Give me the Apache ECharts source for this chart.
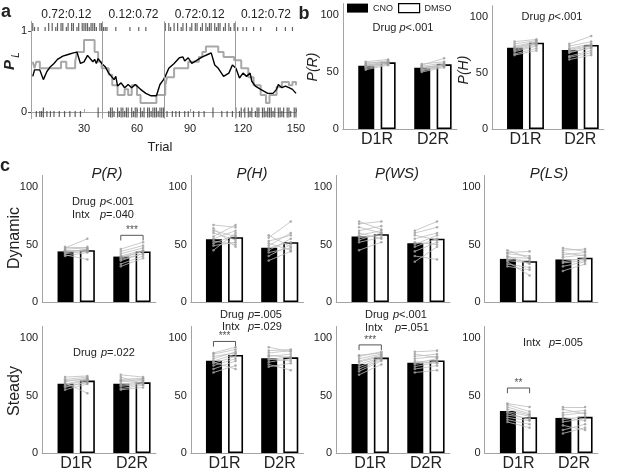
<!DOCTYPE html>
<html><head><meta charset="utf-8">
<script src="https://cdn.jsdelivr.net/npm/echarts@6/dist/echarts.min.js"></script>
<style>html,body{margin:0;padding:0;background:#fff}#c{width:617px;height:473px}</style>
</head><body><div id="c"></div>
<script>
// ===== Panel a data =====
const trialTicks = [30, 60, 90, 120, 150];
const blockBounds = [40.5, 75.5, 115.5];
const blockCenters = [20, 58, 95.5, 133];
const blockLabels = ['0.72:0.12', '0.12:0.72', '0.72:0.12', '0.12:0.72'];
// black: model estimate (trial, P_L)
const blackLine = [[1,0.44],[2,0.52],[3,0.50],[5,0.52],[7,0.40],[9,0.50],[11,0.56],[13,0.60],[15,0.65],[18,0.69],[21,0.71],[24,0.73],[26,0.74],[28,0.60],[30,0.62],[32,0.70],[33,0.72],[35,0.62],[36,0.65],[37,0.60],[38,0.66],[40,0.60],[42,0.56],[44,0.48],[45,0.50],[47,0.40],[48,0.44],[49,0.32],[51,0.36],[53,0.30],[55,0.34],[57,0.30],[59,0.34],[62,0.28],[65,0.23],[68,0.20],[71,0.20],[72,0.21],[73,0.34],[74,0.32],[75,0.40],[76,0.44],[78,0.54],[81,0.60],[84,0.67],[86,0.68],[87,0.63],[89,0.67],[91,0.60],[94,0.64],[95,0.63],[97,0.68],[100,0.71],[102,0.73],[104,0.58],[106,0.54],[109,0.44],[110,0.42],[112,0.48],[114,0.58],[116,0.54],[118,0.42],[120,0.48],[122,0.44],[124,0.48],[125,0.38],[127,0.32],[130,0.28],[134,0.23],[137,0.23],[139,0.28],[140,0.34],[142,0.30],[144,0.32],[146,0.30],[148,0.28],[150,0.23]];
// gray: running choice estimate (step changes)
const grayLine = [[1,0.62],[2,0.54],[3,0.62],[5,0.54],[17,0.62],[20,0.54],[25,0.62],[26,0.74],[30,0.89],[36,0.74],[38,0.62],[40,0.54],[44,0.46],[46,0.33],[49,0.21],[53,0.28],[55,0.21],[57,0.33],[60,0.21],[62,0.11],[71,0.21],[76,0.33],[77,0.43],[81,0.54],[89,0.62],[95,0.68],[97,0.74],[99,0.81],[106,0.74],[109,0.68],[115,0.64],[119,0.54],[123,0.43],[126,0.33],[130,0.21],[133,0.11],[135,0.21],[139,0.31],[142,0.37],[146,0.33],[148,0.37],[150,0.33]];
const leftRewarded = [1,10,12,15,17,18,21,23,24,27,29,30,31,32,34,35,36,39,40,76,78,81,83,86,88,91,93,94,97,99,101,102,104,106,107,110,112,115];
const leftUnrewarded = [2,4,8,14,20,26,33,37,41,42,43,48,56,61,65,79,85,90,96,100,105,109,113,117,120,122,126,130,139,144,148];
const rightRewarded = [7,38,45,46,49,51,52,54,55,57,59,60,62,64,66,67,69,70,71,73,74,75,103,116,119,121,123,125,128,129,131,132,134,135,136,138,140,141,143,145,146,149,150];
const rightUnrewarded = [3,5,6,9,11,13,16,19,22,25,28,44,47,50,53,58,63,68,72,77,80,82,84,87,89,92,95,98,108,111,114,118,124,127,133,137,142,147];

// ===== Bar panels data =====
const groups = ['D1R', 'D2R'];
const groupPos = [1, 2];
const condOffset = 0.2;
// group means [D1R, D2R]
const bPR_CNO = [55.5, 53.8],  bPR_DMSO = [58.5, 56.7];
const bPH_CNO = [72.6, 70.5],  bPH_DMSO = [77.0, 75.0];
const dynPR_CNO = [44, 39.5],  dynPR_DMSO = [45, 44];
const dynPH_CNO = [54.5, 47.2], dynPH_DMSO = [56.3, 52];
const dynPWS_CNO = [57, 51],   dynPWS_DMSO = [59, 55];
const dynPLS_CNO = [37.5, 37], dynPLS_DMSO = [35.5, 38.5];
const stPR_CNO = [60.2, 60.2], stPR_DMSO = [63, 61.5];
const stPH_CNO = [80.3, 82.3], stPH_DMSO = [85.3, 83.2];
const stPWS_CNO = [77.5, 78.5], stPWS_DMSO = [83, 80.5];
const stPLS_CNO = [36.5, 30.5], stPLS_DMSO = [31, 31.5];
// individual animals [CNO, DMSO]
const bPR_D1R = [[52,56],[54,57],[55,58],[56,59],[57,60],[58,59],[53,57],[55,58],[59,61],[56,58]];
const bPR_D2R = [[50,54],[52,55],[53,57],[54,56],[55,58],[56,62],[51,55],[54,56],[57,59],[52,56]];
const bPH_D1R = [[67,72],[69,74],[71,76],[72,77],[74,78],[76,79],[78,80],[70,75],[73,77],[66,70]];
const bPH_D2R = [[62,66],[65,70],[68,73],[70,74],[72,76],[74,78],[76,83],[69,72],[71,75],[64,68]];
const dynPR_D1R = [[40,43],[42,44],[43,46],[44,45],[46,47],[47,55],[48,48],[41,37],[45,44],[43,46]];
const dynPR_D2R = [[31,38],[33,40],[36,42],[38,44],[40,45],[42,47],[44,49],[46,52],[37,42],[39,44]];
const dynPH_D1R = [[45,60],[49,52],[51,58],[53,50],[55,62],[57,67],[60,54],[62,57],[64,48],[67,65]];
const dynPH_D2R = [[36,44],[40,50],[43,47],[45,55],[47,52],[49,60],[51,45],[53,58],[56,70],[58,48]];
const dynPWS_D1R = [[45,52],[52,56],[54,60],[56,58],[58,62],[60,55],[62,66],[65,60],[68,70],[70,63]];
const dynPWS_D2R = [[35,48],[40,37],[44,52],[48,55],[50,58],[52,50],[55,60],[58,54],[60,65],[62,70]];
const dynPLS_D1R = [[31,28],[33,30],[35,23],[36,34],[37,36],[39,38],[40,33],[42,40],[43,44],[45,38]];
const dynPLS_D2R = [[27,33],[31,35],[34,36],[35,38],[37,37],[39,41],[41,43],[43,40],[45,46],[47,44]];
const stPR_D1R = [[55,60],[57,62],[59,63],[60,64],[61,52],[62,65],[63,64],[64,66],[66,67],[58,61]];
const stPR_D2R = [[55,57],[56,59],[58,60],[59,61],[60,62],[62,63],[63,64],[64,65],[66,60],[68,66]];
const stPH_D1R = [[70,76],[73,80],[76,82],[78,84],[80,86],[82,88],[84,87],[86,90],[87,92],[79,73]];
const stPH_D2R = [[75,78],[77,72],[79,82],[81,84],[82,80],[84,86],[85,83],[87,89],[89,90],[92,88]];
const stPWS_D1R = [[68,77],[71,80],[73,81],[75,82],[77,83],[79,84],[80,85],[82,86],[84,88],[85,87]];
const stPWS_D2R = [[70,72],[73,76],[75,79],[77,80],[78,82],[80,78],[82,84],[84,86],[86,83],[88,89]];
const stPLS_D1R = [[27,22],[29,25],[31,28],[33,30],[35,29],[36,32],[38,33],[40,34],[42,36],[43,40]];
const stPLS_D2R = [[17,22],[20,25],[24,20],[27,30],[29,32],[31,28],[33,35],[35,37],[38,34],[40,40]];
// significance brackets: [group index, height, mark]
const sigDynPR = [1, 58, '***'];
const sigStPH = [0, 97, '***'];
const sigStPWS = [0, 94, '***'];
const sigStPLS = [0, 56.5, '**'];

// ===== Layout =====
const FONT = '"Liberation Sans", Arial, sans-serif';
const AX = '#a3a3a3';
const TXT = '#222';
const colLeft = [42.2, 190.8, 336.2, 484.65];
const colWidth = [113.7, 112.7, 113.7, 113.2];
const panels = [
  {cno:bPR_CNO, dmso:bPR_DMSO, s:[bPR_D1R,bPR_D2R], left:342.8, top:3.6, width:114.2, height:125.4, xlab:true},
  {cno:bPH_CNO, dmso:bPH_DMSO, s:[bPH_D1R,bPH_D2R], left:492.1, top:5.8, width:111.7, height:123.2, xlab:true},
  {cno:dynPR_CNO, dmso:dynPR_DMSO, s:[dynPR_D1R,dynPR_D2R], col:0, row:0, sig:sigDynPR},
  {cno:dynPH_CNO, dmso:dynPH_DMSO, s:[dynPH_D1R,dynPH_D2R], col:1, row:0},
  {cno:dynPWS_CNO, dmso:dynPWS_DMSO, s:[dynPWS_D1R,dynPWS_D2R], col:2, row:0},
  {cno:dynPLS_CNO, dmso:dynPLS_DMSO, s:[dynPLS_D1R,dynPLS_D2R], col:3, row:0},
  {cno:stPR_CNO, dmso:stPR_DMSO, s:[stPR_D1R,stPR_D2R], col:0, row:1},
  {cno:stPH_CNO, dmso:stPH_DMSO, s:[stPH_D1R,stPH_D2R], col:1, row:1, sig:sigStPH},
  {cno:stPWS_CNO, dmso:stPWS_DMSO, s:[stPWS_D1R,stPWS_D2R], col:2, row:1, sig:sigStPWS},
  {cno:stPLS_CNO, dmso:stPLS_DMSO, s:[stPLS_D1R,stPLS_D2R], col:3, row:1, sig:sigStPLS}
];
panels.forEach(p => {
  if (p.col !== undefined) {
    p.left = colLeft[p.col]; p.width = colWidth[p.col];
    p.top = p.row === 0 ? 175.5 : 326.5; p.height = 126.5; p.xlab = p.row === 1;
  }
});

const grids = [{left:31, top:21.3, width:265, height:97.2}];
const xAxes = [
  {type:'value', gridIndex:0, min:0, max:150,
   axisLine:{lineStyle:{color:AX}}, splitLine:{show:false},
   axisTick:{show:true, inside:true, length:3, customValues:trialTicks, lineStyle:{color:AX}},
   axisLabel:{customValues:trialTicks, fontSize:11, color:TXT, margin:5, fontFamily:FONT}},
  {type:'value', gridIndex:0, min:0, max:150, position:'top',
   axisLine:{show:false}, axisTick:{show:false}, splitLine:{show:false},
   axisLabel:{customValues:blockCenters, formatter:(v)=>blockLabels[blockCenters.indexOf(v)], fontSize:12, color:TXT, margin:1, fontFamily:FONT}}
];
const yAxes = [
  {type:'value', gridIndex:0, min:-0.08, max:1.12,
   axisLine:{show:true, lineStyle:{color:AX}}, splitLine:{show:false},
   axisTick:{show:true, length:3, customValues:[0,1], lineStyle:{color:'#555'}},
   axisLabel:{customValues:[0,1], fontSize:11, color:TXT, margin:4, fontFamily:FONT}}
];
const series = [
  {type:'line', xAxisIndex:0, yAxisIndex:0, data:grayLine, step:'end', showSymbol:false,
   lineStyle:{color:'#a8a8a8', width:2}, silent:true,
   markLine:{symbol:'none', silent:true, label:{show:false}, lineStyle:{color:'#9a9a9a', type:'solid', width:1},
     data:blockBounds.map(x=>({xAxis:x}))}},
  {type:'line', xAxisIndex:0, yAxisIndex:0, data:blackLine, showSymbol:false,
   lineStyle:{color:'#000', width:1.4}, silent:true, z:3}
];
function raster(trials, y, h) {
  return {type:'scatter', xAxisIndex:0, yAxisIndex:0, symbol:'rect', symbolSize:[1.2, h],
    itemStyle:{color:'#3a3a3a'}, silent:true, data:trials.map(t=>[t, y])};
}
series.push(raster(leftRewarded, 1.049, 8), raster(leftUnrewarded, 1.025, 4),
            raster(rightRewarded, -0.006, 10), raster(rightUnrewarded, -0.025, 6));

panels.forEach((p, i) => {
  const gi = grids.length;
  const xi = xAxes.length, yi = yAxes.length;
  grids.push({left:p.left, top:p.top, width:p.width, height:p.height});
  xAxes.push({type:'value', gridIndex:gi, min:0.39, max:2.43,
    axisLine:{lineStyle:{color:AX}}, splitLine:{show:false},
    axisTick:{show:true, inside:true, length:2, customValues:[0.8,1.2,1.8,2.2], lineStyle:{color:AX}},
    axisLabel: p.xlab ? {customValues:groupPos, formatter:(v)=>groups[groupPos.indexOf(v)], fontSize:16, color:TXT, margin:3, fontFamily:FONT} : {show:false}});
  yAxes.push({type:'value', gridIndex:gi, min:0, max:110,
    axisLine:{show:true, lineStyle:{color:AX}}, splitLine:{show:false}, axisTick:{show:false},
    axisLabel:{customValues:[0,50,100], fontSize:11, color:TXT, margin:4, fontFamily:FONT}});
  series.push({type:'bar', name:'CNO', xAxisIndex:xi, yAxisIndex:yi, barWidth:16, barGap:'-100%', silent:true,
    itemStyle:{color:'#000'}, data:groupPos.map((g,k)=>[g-condOffset, p.cno[k]])});
  series.push({type:'bar', name:'DMSO', xAxisIndex:xi, yAxisIndex:yi, barWidth:15, barGap:'-100%', silent:true,
    itemStyle:{color:'#fff', borderColor:'#000', borderWidth:1.6}, data:groupPos.map((g,k)=>[g+condOffset, p.dmso[k]])});
  const segs = [], pts = [];
  p.s.forEach((arr, k) => arr.forEach(([a,b]) => {
    const x1 = groupPos[k]-condOffset, x2 = groupPos[k]+condOffset;
    segs.push({coords:[[x1,a],[x2,b]]}); pts.push([x1,a],[x2,b]);
  }));
  series.push({type:'lines', coordinateSystem:'cartesian2d', xAxisIndex:xi, yAxisIndex:yi, data:segs, silent:true,
    lineStyle:{color:'#bdbdbd', width:0.8, opacity:1}, z:4});
  series.push({type:'scatter', xAxisIndex:xi, yAxisIndex:yi, data:pts, symbolSize:2.6, silent:true,
    itemStyle:{color:'#9c9c9c'}, z:5});
  if (p.sig) {
    const [g, y, mark] = p.sig;
    const x1 = groupPos[g]-condOffset, x2 = groupPos[g]+condOffset;
    series.push({type:'lines', coordinateSystem:'cartesian2d', polyline:true, xAxisIndex:xi, yAxisIndex:yi, silent:true,
      data:[{coords:[[x1,y-4.5],[x1,y],[x2,y],[x2,y-4.5]]}], lineStyle:{color:'#555', width:1, opacity:1}, z:5});
    series.push({type:'scatter', xAxisIndex:xi, yAxisIndex:yi, data:[[groupPos[g], y]], symbolSize:0, silent:true,
      label:{show:true, position:'top', distance:0, formatter:mark, fontSize:10, color:'#222', fontFamily:FONT}, z:6});
  }
});

function T(x, y, text, o) {
  o = o || {};
  return {type:'text', x:x, y:y, rotation:o.rot||0, silent:true, z:10,
    style:{text:text, fill:o.fill||TXT, fontSize:o.size||11, fontFamily:FONT,
      fontStyle:o.italic?'italic':'normal', fontWeight:o.bold?'bold':'normal',
      align:o.align||'center', verticalAlign:'middle', textAlign:o.align||'center', textVerticalAlign:'middle',
      rich:{i:{fontStyle:'italic', fontSize:o.size||11, fontFamily:FONT, fill:o.fill||TXT}}}};
}
const R = Math.PI/2;
const graphics = [
  T(6, 12, 'a', {size:18, bold:true}), T(304, 14, 'b', {size:18, bold:true}), T(5, 166, 'c', {size:18, bold:true}),
  T(10, 65, 'P', {size:15, italic:true, bold:true, rot:R}), T(16.5, 55, 'L', {size:10, italic:true, rot:R}),
  T(160, 147, 'Trial', {size:13}),
  T(313, 67, 'P(R)', {size:14, italic:true, rot:R}), T(464, 70, 'P(H)', {size:14, italic:true, rot:R}),
  T(107, 174, 'P(R)', {size:15, italic:true}), T(252, 174, 'P(H)', {size:15, italic:true}),
  T(397, 174, 'P(WS)', {size:15, italic:true}), T(549, 174, 'P(LS)', {size:15, italic:true}),
  T(15, 238, 'Dynamic', {size:16, rot:R}), T(15, 391, 'Steady', {size:16, rot:R}),
  T(403, 28, 'Drug {i|p}<.001'), T(552, 17, 'Drug {i|p}<.001'),
  T(72, 202, 'Drug', {align:'left'}), T(100, 202, '{i|p}<.001', {align:'left'}),
  T(72, 215, 'Intx', {align:'left'}), T(100, 215, '{i|p}=.040', {align:'left'}),
  T(73, 353, 'Drug', {align:'left'}), T(101, 353, '{i|p}=.022', {align:'left'}),
  T(220, 315, 'Drug', {align:'left'}), T(248, 315, '{i|p}=.005', {align:'left'}),
  T(222, 327, 'Intx', {align:'left'}), T(248, 327, '{i|p}=.029', {align:'left'}),
  T(365, 315, 'Drug', {align:'left'}), T(393, 315, '{i|p}<.001', {align:'left'}),
  T(365, 328, 'Intx', {align:'left'}), T(395, 328, '{i|p}=.051', {align:'left'}),
  T(523, 343, 'Intx', {align:'left'}), T(549, 343, '{i|p}=.005', {align:'left'})
];

const chart = echarts.init(document.getElementById('c'));
chart.setOption({
  animation:false,
  backgroundColor:'#fff',
  textStyle:{fontFamily:FONT},
  grid:grids, xAxis:xAxes, yAxis:yAxes, series:series, graphic:graphics,
  legend:{left:347, top:3, padding:0, itemWidth:21, itemHeight:9, itemGap:5, selectedMode:false, icon:'rect',
    textStyle:{fontSize:9, color:TXT, fontFamily:FONT},
    data:[{name:'CNO', itemStyle:{color:'#000'}}, {name:'DMSO', itemStyle:{color:'#fff', borderColor:'#000', borderWidth:1.2}}]}
});
</script></body></html>
